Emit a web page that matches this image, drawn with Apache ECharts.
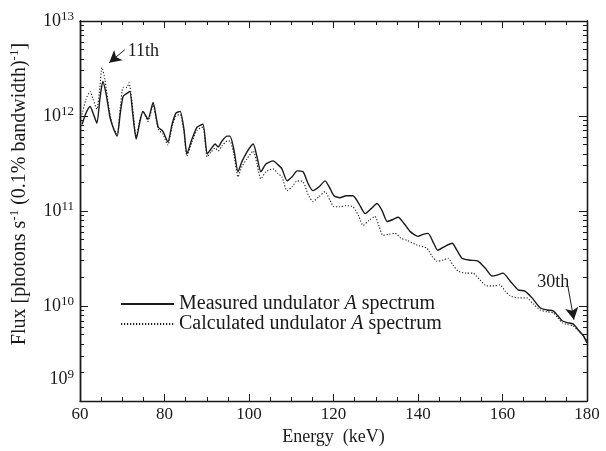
<!DOCTYPE html>
<html>
<head>
<meta charset="utf-8">
<title>Undulator A spectrum</title>
<script src="https://cdn.jsdelivr.net/npm/echarts@6/dist/echarts.min.js"></script>
<style>
  html, body { margin: 0; padding: 0; background: #fff; }
  #main { width: 606px; height: 451px; }
</style>
</head>
<body>
<div id="main"></div>
<script>
// measured spectrum (solid line)
const energyMeasured = [60.5, 61.4, 62.4, 63.1, 64.0, 64.7, 65.4, 66.2, 67.1, 68.0, 68.8, 69.5, 70.2, 71.1, 71.8,
  72.5, 73.3, 74.2, 74.9, 76.1, 77.3, 78.5, 79.6, 80.8, 81.8, 82.7, 83.7, 84.6, 85.3, 86.5, 87.7, 89.1, 90.1,
  91.0, 92.0, 92.7, 93.6, 94.8, 95.5, 96.4, 97.4, 98.3, 99.5, 101.0, 101.9, 102.8, 104.0, 105.7, 106.9, 107.8,
  109.0, 110.2, 111.4, 112.8, 114.0, 115.1, 116.6, 118.0, 119.2, 120.1, 121.5, 123.0, 124.6, 126.0, 127.5,
  128.9, 130.3, 131.5, 132.7, 134.1, 135.3, 136.7, 138.1, 140.0, 141.2, 142.4, 143.6, 144.7, 146.4, 148.1,
  149.2, 150.4, 152.3, 154.2, 155.9, 157.5, 158.7, 160.1, 161.8, 163.7, 165.3, 167.0, 168.9, 170.5, 172.0,
  173.1, 174.1, 175.3, 176.7, 177.9, 179.1, 180.0];
const fluxMeasured = [8.2e11, 1.07e12, 1.26e12, 1.07e12, 8.4e11, 1.5e12, 2.31e12, 1.69e12, 9.7e11, 7.28e11,
  6.15e11, 1.04e12, 1.61e12, 1.73e12, 1.81e12, 1.04e12, 5.72e11, 8.81e11, 1.12e12, 9.25e11, 1.39e12, 7.64e11,
  6.93e11, 5.32e11, 8.2e11, 1.07e12, 1.12e12, 7.28e11, 3.99e11, 5.72e11, 7.64e11, 8.2e11, 3.99e11, 4.5e11,
  5.07e11, 4.72e11, 5.45e11, 6.15e11, 6.15e11, 4.5e11, 2.59e11, 3.29e11, 4.18e11, 5.07e11, 3.71e11, 2.59e11,
  3.13e11, 3.37e11, 3.06e11, 2.78e11, 2.08e11, 2.29e11, 2.65e11, 2.59e11, 1.94e11, 1.64e11, 1.8e11, 2.08e11,
  1.72e11, 1.45e11, 1.38e11, 1.45e11, 1.45e11, 1.2e11, 9.4e10, 1.06e11, 1.2e11, 1.01e11, 7.77e10, 8.15e10,
  8.6e10, 7.4e10, 6.11e10, 5.42e10, 5.69e10, 5.82e10, 4.69e10, 3.87e10, 4.26e10, 4.58e10, 3.87e10, 3.19e10,
  3.04e10, 2.97e10, 2.51e10, 2.07e10, 2.12e10, 2.22e10, 1.84e10, 1.48e10, 1.44e10, 1.22e10, 9.6e9, 9.1e9,
  8.9e9, 7.9e9, 7.0e9, 6.7e9, 6.5e9, 5.65e9, 4.9e9, 4.1e9];

// calculated spectrum (dotted line)
const energyCalculated = [60.5, 61.4, 62.4, 63.1, 64.0, 64.7, 65.2, 65.9, 66.9, 67.8, 68.8, 69.5, 70.2, 71.1,
  71.6, 72.5, 73.3, 74.2, 74.9, 76.1, 77.3, 78.5, 79.6, 80.8, 81.8, 82.7, 83.7, 84.6, 85.3, 86.5, 87.7, 89.1,
  90.1, 91.0, 92.0, 92.7, 93.6, 94.8, 95.5, 96.4, 97.4, 98.3, 99.5, 101.0, 101.9, 102.8, 104.0, 105.7, 106.9,
  107.8, 109.0, 110.2, 111.4, 112.8, 114.0, 115.1, 116.6, 118.0, 119.2, 120.1, 121.5, 123.0, 124.6, 126.0,
  127.0, 128.4, 129.8, 130.8, 131.7, 133.1, 134.6, 136.0, 137.4, 139.8, 142.1, 143.3, 144.5, 145.9, 147.1,
  148.3, 149.5, 151.4, 153.0, 154.7, 156.3, 158.0, 159.4, 160.6, 161.8, 163.7, 165.8, 167.2, 168.9, 170.5,
  172.0, 173.1, 174.1, 175.3, 176.7, 177.9, 179.1, 180.0];
const fluxCalculated = [1.04e12, 1.5e12, 1.81e12, 1.5e12, 1.18e12, 2.0e12, 3.23e12, 2.42e12, 1.18e12, 7.64e11,
  6.45e11, 1.18e12, 2.0e12, 2.0e12, 2.25e12, 1.18e12, 6.0e11, 9.25e11, 1.12e12, 8.81e11, 1.3e12, 7.28e11,
  6.45e11, 4.95e11, 7.82e11, 9.94e11, 1.04e12, 6.77e11, 3.8e11, 5.32e11, 7.1e11, 7.64e11, 3.71e11, 4.18e11,
  4.61e11, 4.29e11, 4.83e11, 5.45e11, 5.45e11, 3.99e11, 2.29e11, 2.92e11, 3.54e11, 4.29e11, 3.13e11, 2.18e11,
  2.59e11, 2.78e11, 2.47e11, 2.29e11, 1.64e11, 1.8e11, 2.08e11, 2.03e11, 1.49e11, 1.26e11, 1.42e11, 1.6e11,
  1.29e11, 1.11e11, 1.11e11, 1.14e11, 1.11e11, 8.8e10, 7.06e10, 7.96e10, 8.8e10, 6.89e10, 5.55e10, 5.69e10,
  5.82e10, 5.16e10, 4.92e10, 4.37e10, 4.06e10, 3.35e10, 2.97e10, 3.04e10, 3.19e10, 2.7e10, 2.33e10, 2.22e10,
  2.22e10, 1.88e10, 1.63e10, 1.63e10, 1.67e10, 1.44e10, 1.28e10, 1.22e10, 1.22e10, 1.06e10, 9.1e9, 8.7e9,
  8.5e9, 7.5e9, 6.7e9, 6.4e9, 6.2e9, 5.5e9, 4.9e9, 4.3e9];

// axis ticks
const yMajorTicks = [1e9, 1e10, 1e11, 1e12, 1e13];
const yMinorTicks = [];
yMajorTicks.slice(0, 4).forEach(function (d) {
  for (let k = 2; k <= 9; k++) yMinorTicks.push(k * d);
});

// harmonic annotations: [label, textCenter, arrowFrom, arrowTo]  (energy, flux)
const harmonicNotes = [
  ['11th', [75.0, 4.75e12], [70.6, 4.98e12], [66.9, 3.64e12]],
  ['30th', [172.0, 1.8e10], [175.5, 1.59e10], [176.9, 7.2e9]]
];

const FONT = '"Liberation Serif", "DejaVu Serif", serif';
const INK = '#1a1a1a';

const chart = echarts.init(document.getElementById('main'), null, { renderer: 'canvas' });

function pairs(xs, ys) {
  return xs.map(function (x, i) { return [x, ys[i]]; });
}

// tick-only axes drawn in decade units (exponent) so custom log ticks land right
function yTickAxis(position, ticks, len) {
  return {
    type: 'value',
    min: 9,
    max: 13,
    position: position,
    splitLine: { show: false },
    axisLine: { show: true, onZero: false, lineStyle: { color: INK, width: 1.3 } },
    axisTick: {
      show: true, inside: true, length: len,
      customValues: ticks.map(function (t) { return Math.log10(t); }),
      lineStyle: { color: INK, width: 1 }
    },
    minorTick: { show: false },
    axisLabel: { show: false }
  };
}

const yLog = {
  type: 'log',
  logBase: 10,
  min: 1e9,
  max: 1e13,
  position: 'left',
  splitLine: { show: false },
  axisLine: { show: true, onZero: false, lineStyle: { color: INK, width: 1.3 } },
  axisTick: { show: false },
  minorTick: { show: false },
  axisLabel: {
    show: true,
    margin: 6,
    fontFamily: FONT,
    color: INK,
    formatter: function (v) {
      const p = Math.round(Math.log10(v));
      if (p === 9) return '{b9|10}{e9|' + p + '}';
      return '{b|10}{e|' + p + '}';
    },
    rich: {
      b: { fontFamily: FONT, fontSize: 18, lineHeight: 22, color: INK },
      e: { fontFamily: FONT, fontSize: 13, lineHeight: 13, padding: [0, 0, 9, 0], color: INK },
      b9: { fontFamily: FONT, fontSize: 18, lineHeight: 22, padding: [0, 0, 44, 0], color: INK },
      e9: { fontFamily: FONT, fontSize: 13, lineHeight: 13, padding: [0, 0, 53, 0], color: INK }
    }
  },
  name: '{t|Flux [photons s}{s|-1}{t| (0.1% bandwidth)}{s|-1}{t|]}',
  nameLocation: 'middle',
  nameGap: 45,
  nameTextStyle: {
    fontFamily: FONT,
    color: INK,
    padding: [0, 0, 0, 34],
    rich: {
      t: { fontFamily: FONT, fontSize: 20, lineHeight: 24, color: INK },
      s: { fontFamily: FONT, fontSize: 13, lineHeight: 13, padding: [0, 0, 11, 0], color: INK }
    }
  }
};

function xAxisBase(position, showLabel) {
  return {
    type: 'value',
    min: 60,
    max: 180,
    interval: 20,
    position: position,
    splitLine: { show: false },
    axisLine: { show: true, onZero: false, lineStyle: { color: INK, width: 1.3 } },
    axisTick: { show: true, inside: true, length: 7, lineStyle: { color: INK } },
    minorTick: { show: true, splitNumber: 4, length: 4, lineStyle: { color: INK } },
    axisLabel: {
      show: showLabel,
      margin: 5,
      fontFamily: FONT,
      fontSize: 17,
      color: INK
    }
  };
}

const xBottom = xAxisBase('bottom', true);
xBottom.name = 'Energy  (keV)';
xBottom.nameLocation = 'middle';
xBottom.nameGap = 24;
xBottom.nameTextStyle = { fontFamily: FONT, fontSize: 18, color: INK };

const noteLines = harmonicNotes.map(function (n) {
  return [{ coord: n[2] }, { coord: n[3] }];
});
const notePoints = harmonicNotes.map(function (n) {
  return { coord: n[1], value: n[0] };
});

const option = {
  backgroundColor: '#fff',
  animation: false,
  grid: { left: 80, right: 19, top: 21, bottom: 47, containLabel: false },
  legend: {
    orient: 'vertical',
    left: 120,
    top: 294,
    padding: 0,
    itemWidth: 53,
    itemHeight: 14,
    itemGap: 0,
    itemStyle: { opacity: 0 },
    textStyle: {
      fontFamily: FONT,
      fontSize: 20,
      lineHeight: 18,
      color: INK,
      rich: {
        n: { fontFamily: FONT, fontSize: 20, lineHeight: 18, color: INK },
        i: { fontFamily: FONT, fontSize: 20, lineHeight: 18, fontStyle: 'italic', color: INK }
      }
    },
    formatter: function (name) {
      const parts = name.split(' A ');
      return '{n|' + parts[0] + ' }{i|A}{n| ' + parts[1] + '}';
    },
    data: ['Measured undulator A spectrum', 'Calculated undulator A spectrum']
  },
  xAxis: [xBottom, xAxisBase('top', false)],
  yAxis: [
    yLog,
    yTickAxis('left', yMajorTicks, 8),
    yTickAxis('left', yMinorTicks, 4),
    yTickAxis('right', yMajorTicks, 8),
    yTickAxis('right', yMinorTicks, 4)
  ],
  series: [
    {
      name: 'Measured undulator A spectrum',
      type: 'line',
      symbol: 'none',
      smooth: 0.2,
      xAxisIndex: 0,
      yAxisIndex: 0,
      lineStyle: { color: INK, width: 1.4, type: 'solid' },
      itemStyle: { color: INK },
      data: pairs(energyMeasured, fluxMeasured),
      markLine: {
        silent: true,
        symbol: ['none', 'arrow'],
        symbolSize: [10, 12],
        lineStyle: { color: INK, width: 1, type: 'solid' },
        label: { show: false },
        data: noteLines
      },
      markPoint: {
        silent: true,
        symbol: 'rect',
        symbolSize: 1,
        itemStyle: { color: 'rgba(0,0,0,0)' },
        label: {
          show: true,
          position: 'inside',
          formatter: function (p) { return p.value; },
          fontFamily: FONT,
          fontSize: 18,
          color: INK
        },
        data: notePoints
      }
    },
    {
      name: 'Calculated undulator A spectrum',
      type: 'line',
      symbol: 'none',
      smooth: 0.2,
      xAxisIndex: 0,
      yAxisIndex: 0,
      lineStyle: { color: INK, width: 1.1, type: [1.2, 1.8] },
      itemStyle: { color: INK },
      data: pairs(energyCalculated, fluxCalculated)
    }
  ]
};

chart.setOption(option);
</script>
</body>
</html>
